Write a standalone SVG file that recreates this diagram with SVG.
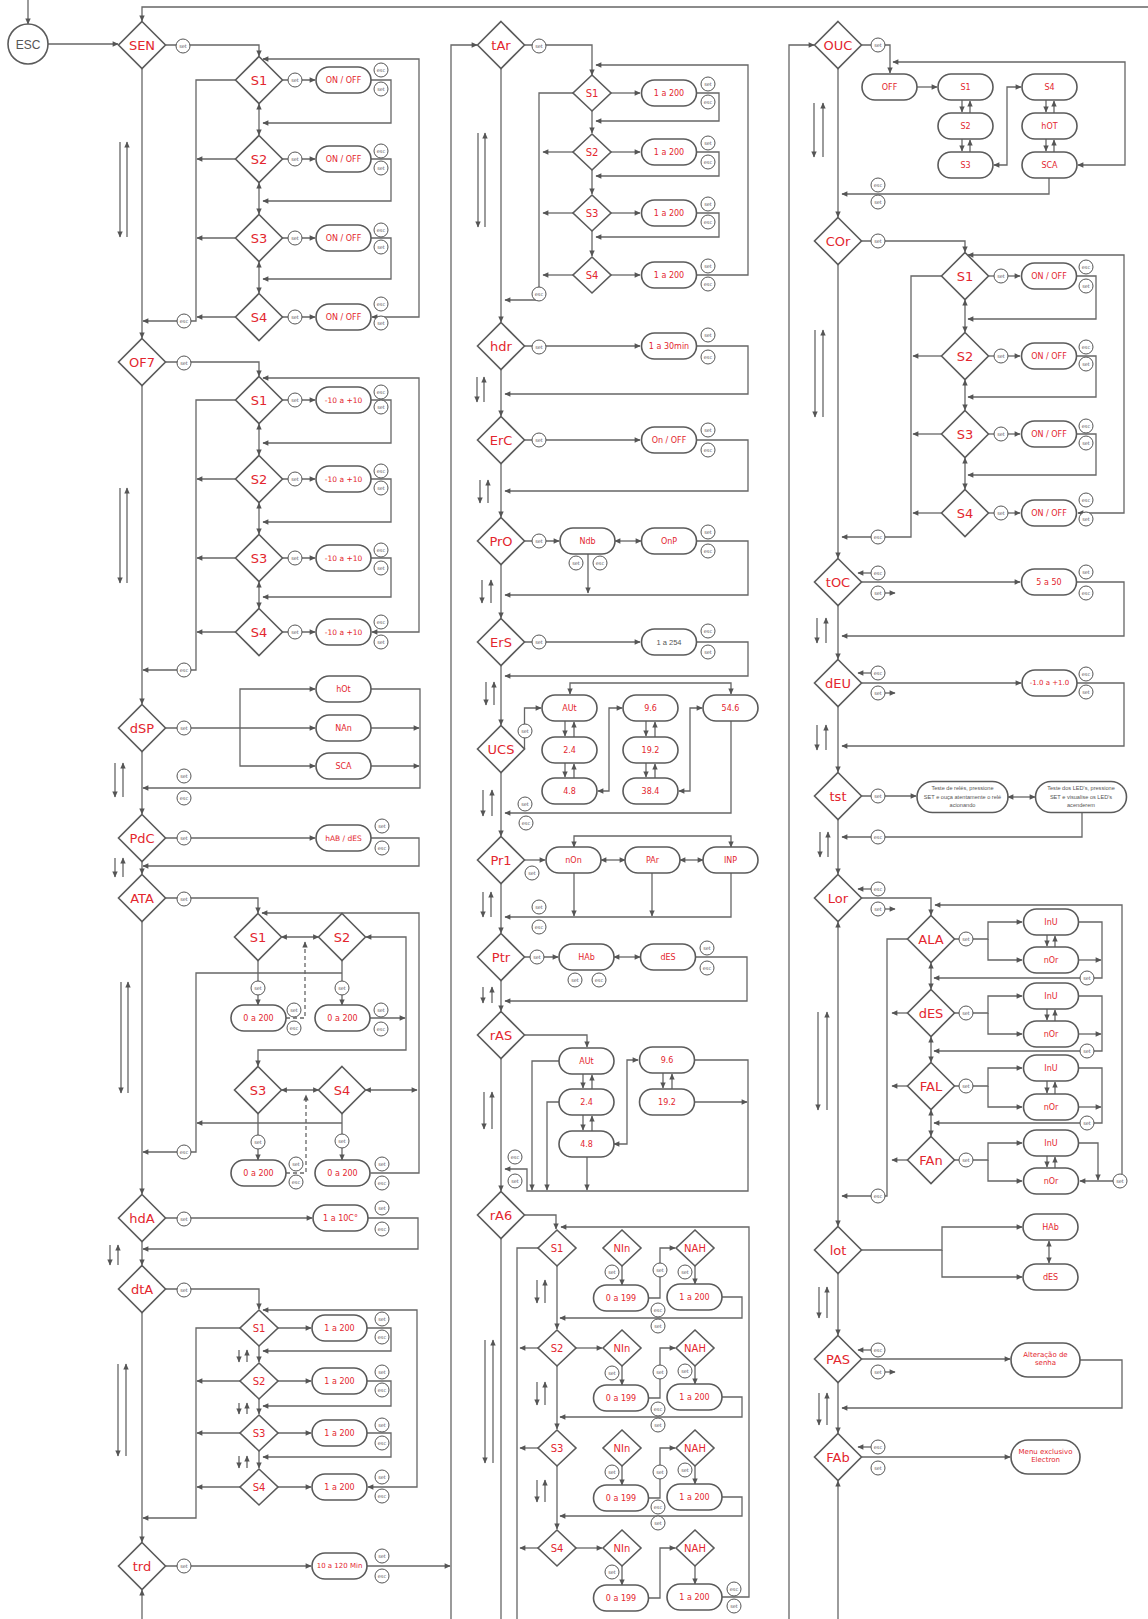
<svg xmlns="http://www.w3.org/2000/svg" width="1148" height="1619" viewBox="0 0 1148 1619">
<style>
.n use,.n circle{fill:#fff;stroke:#5b5b5b;stroke-width:1.6}
.L{font-family:"DejaVu Sans",sans-serif;fill:#e3262e;text-anchor:middle;dominant-baseline:central}
.f13{font-size:13px}.f10{font-size:10px}.f8{font-size:8px}.f7{font-size:7px}.f75{font-size:7.5px}
.gr{fill:#555}
.tw{font-family:"Liberation Sans",Arial,sans-serif;font-size:5.6px;fill:#555;text-anchor:middle}
.c path{fill:none;stroke:#666;stroke-width:1.3}
.c .e{marker-end:url(#a)}
.c .s{marker-start:url(#a)}
.c .dash{stroke-dasharray:4 3}
.b use{fill:#fff;stroke:#555;stroke-width:1}
.b text{font-family:"DejaVu Sans",sans-serif;font-size:5px;fill:#555;text-anchor:middle;dominant-baseline:central}
</style>
<defs>
<marker id="a" viewBox="0 0 10 10" refX="9" refY="5" markerWidth="7" markerHeight="6" markerUnits="userSpaceOnUse" orient="auto-start-reverse"><path d="M0,0.5 L10,5 L0,9.5z" fill="#555"/></marker>
<polygon id="D" points="0,-23.5 23.5,0 0,23.5 -23.5,0"/>
<polygon id="d" points="0,-18 19,0 0,18 -19,0"/>
<rect id="P" x="-27.5" y="-13" width="55" height="26" rx="13"/>
<rect id="PW" x="-45.5" y="-15.5" width="91" height="31" rx="15.5"/>
<rect id="PA" x="-34.5" y="-17" width="69" height="34" rx="17"/>
<circle id="B" r="7"/>
</defs>
<rect width="1148" height="1619" fill="#fff"/>

<g id="connectors" class="c">
<!-- column 1 -->
<path class="e" d="M28,0 V24"/>
<path class="e" d="M48,44 H118"/>
<path class="e" d="M1148,7 H142 V21"/>
<path class="e" d="M165.5,45 H259 V56"/>
<path class="e" d="M282.5,80 H315"/><path class="e" d="M371,80 H391 V123 H263"/>
<path class="s e" d="M259,104 V135"/>
<path class="e" d="M282.5,159 H315"/><path class="e" d="M371,159 H391 V201 H263"/>
<path class="s e" d="M259,183 V214"/>
<path class="e" d="M282.5,238 H315"/><path class="e" d="M371,238 H391 V279 H263"/>
<path class="s e" d="M259,262 V293"/>
<path class="e" d="M282.5,317 H315"/>
<path class="s e" d="M263,59 H419 V317 H372"/>
<path class="e" d="M235.5,80 H196 V321 H143"/>
<path class="e" d="M235.5,159 H197"/><path class="e" d="M235.5,238 H197"/><path class="e" d="M235.5,317 H197"/>
<path class="e" d="M120,142 V237"/><path class="e" d="M127,237 V142"/>
<path class="e" d="M142,68.5 V338"/>

<path class="e" d="M165.5,362 H259 V376"/>
<path class="e" d="M282.5,400 H315"/><path class="e" d="M371,400 H391 V443 H263"/>
<path class="s e" d="M259,424 V455"/>
<path class="e" d="M282.5,479 H315"/><path class="e" d="M371,479 H391 V522 H263"/>
<path class="s e" d="M259,503 V534"/>
<path class="e" d="M282.5,558 H315"/><path class="e" d="M371,558 H391 V597 H263"/>
<path class="s e" d="M259,582 V608"/>
<path class="e" d="M282.5,632 H315"/>
<path class="s e" d="M263,378 H419 V632 H372"/>
<path class="e" d="M235.5,400 H196 V670 H143"/>
<path class="e" d="M235.5,479 H197"/><path class="e" d="M235.5,558 H197"/><path class="e" d="M235.5,632 H197"/>
<path class="e" d="M120,488 V583"/><path class="e" d="M127,583 V488"/>
<path class="e" d="M142,385.5 V704"/>

<path class="e" d="M165.5,728 H315"/>
<path class="e" d="M240,728 V689 H315"/><path class="e" d="M240,728 V766 H315"/>
<path class="e" d="M371,689 H420 V788 H143"/>
<path class="e" d="M371,728 H419"/><path class="e" d="M371,766 H419"/>
<path class="e" d="M115,763 V797"/><path class="e" d="M123,797 V763"/>
<path class="e" d="M142,751.5 V814"/>

<path class="e" d="M165.5,838 H315"/>
<path class="e" d="M371,838 H419 V866 H143"/>
<path class="e" d="M115,858 V877"/><path class="e" d="M123,877 V858"/>
<path class="e" d="M142,861.5 V874"/>

<path class="e" d="M165.5,898 H258 V913"/>
<path class="s e" d="M281.5,937 H318.5"/>
<path class="e dash" d="M286,1018 H305 V942"/>
<path class="s" d="M262,913 H419 V1173 H370.5"/>
<path class="s e" d="M366,937 H406 V1050 H258 V1066"/>
<path class="e" d="M370,1018 H405"/>
<path class="e" d="M258,960.5 V1005"/>
<path class="e" d="M342,960.5 V1005"/>
<path class="e" d="M342,973 H196 V1152 H143"/>
<path class="s e" d="M281.5,1090 H318.5"/>
<path class="e dash" d="M286,1173 H306 V1095"/>
<path class="s e" d="M365.5,1090 H417"/>
<path class="e" d="M342,1123 H197"/>
<path class="e" d="M342,1113.5 V1160"/>
<path class="e" d="M258,1113.5 V1160"/>
<path class="e" d="M121,982 V1093"/><path class="e" d="M128,1093 V982"/>
<path class="e" d="M142,921.5 V1194"/>

<path class="e" d="M165.5,1218 H312"/>
<path class="e" d="M368,1218 H418 V1249 H143"/>
<path class="e" d="M110,1245 V1265"/><path class="e" d="M118,1265 V1245"/>
<path class="e" d="M142,1241.5 V1265"/>

<path class="e" d="M165.5,1289 H259 V1309"/>
<path class="e" d="M278,1328 H311"/><path class="e" d="M367,1328 H391 V1351 H263"/>
<path class="e" d="M259,1346 V1362"/>
<path class="e" d="M239,1350 V1362"/><path class="e" d="M247,1362 V1350"/>
<path class="e" d="M278,1381 H311"/><path class="e" d="M367,1381 H391 V1406 H263"/>
<path class="e" d="M259,1399 V1414"/>
<path class="e" d="M239,1403 V1414"/><path class="e" d="M247,1414 V1403"/>
<path class="e" d="M278,1433 H311"/><path class="e" d="M367,1433 H391 V1457 H263"/>
<path class="e" d="M259,1451 V1468"/>
<path class="e" d="M239,1456 V1468"/><path class="e" d="M247,1468 V1456"/>
<path class="e" d="M278,1487 H311"/>
<path class="s e" d="M263,1310 H417 V1487 H368"/>
<path class="e" d="M240,1328 H196 V1518 H143"/>
<path class="e" d="M240,1381 H197"/><path class="e" d="M240,1433 H197"/><path class="e" d="M240,1487 H197"/>
<path class="e" d="M118,1364 V1456"/><path class="e" d="M126,1456 V1364"/>
<path class="e" d="M142,1312.5 V1542"/>

<path class="e" d="M165.5,1566 H311"/>
<path class="e" d="M367,1566 H450"/>
<path class="e" d="M142,1619 V1590"/>

<!-- column 2 -->
<path class="e" d="M451,1619 V45 H477"/>
<path class="e" d="M524.5,45 H592 V75"/>
<path class="e" d="M611,93 H640"/><path class="e" d="M697,93 H719 V121 H596"/>
<path class="e" d="M592,111 V133"/>
<path class="e" d="M611,152 H640"/><path class="e" d="M697,152 H719 V176 H596"/>
<path class="e" d="M592,170 V194"/>
<path class="e" d="M611,213 H640"/><path class="e" d="M697,213 H719 V237 H596"/>
<path class="e" d="M592,231 V256"/>
<path class="e" d="M611,275 H640"/>
<path class="e" d="M697,275 H748 V65 H596"/>
<path class="e" d="M573,93 H539 V300 H505"/>
<path class="e" d="M573,152 H543"/><path class="e" d="M573,213 H543"/><path class="e" d="M573,275 H543"/>
<path class="e" d="M478,133 V227"/><path class="e" d="M485,227 V133"/>
<path class="e" d="M501,68.5 V322"/>

<path class="e" d="M524.5,346 H640"/>
<path class="e" d="M697,346 H748 V394 H505"/>
<path class="e" d="M477,377 V402"/><path class="e" d="M484,402 V377"/>
<path class="e" d="M501,369.5 V416"/>

<path class="e" d="M524.5,440 H640"/>
<path class="e" d="M697,440 H748 V491 H505"/>
<path class="e" d="M480,480 V503"/><path class="e" d="M488,503 V480"/>
<path class="e" d="M501,463.5 V517"/>

<path class="e" d="M524.5,541 H559"/>
<path class="s e" d="M615,541 H641"/>
<path class="e" d="M697,541 H748 V595 H505"/>
<path class="e" d="M588,554 V593"/>
<path class="e" d="M482,580 V603"/><path class="e" d="M491,603 V580"/>
<path class="e" d="M501,564.5 V618"/>

<path class="e" d="M524.5,642 H640"/>
<path class="e" d="M697,642 H748 V676 H505"/>
<path class="e" d="M486,682 V705"/><path class="e" d="M494,705 V682"/>
<path class="e" d="M501,665.5 V725"/>

<path class="e" d="M524.5,749 V708 H541"/>
<path class="e" d="M565,721 V736"/><path class="e" d="M574,737 V722"/>
<path class="e" d="M565,763 V777"/><path class="e" d="M574,778 V764"/>
<path class="e" d="M646,721 V736"/><path class="e" d="M655,737 V722"/>
<path class="e" d="M646,763 V777"/><path class="e" d="M655,778 V764"/>
<path class="s e" d="M598,791 H609 V708 H622"/>
<path class="s e" d="M679,791 H690 V708 H702"/>
<path class="s e" d="M570,694 V683 H731 V694"/>
<path class="e" d="M731,721 V813 H505"/>
<path class="e" d="M483,790 V816"/><path class="e" d="M492,816 V790"/>
<path class="e" d="M501,772.5 V836"/>

<path class="e" d="M524.5,860 H545"/>
<path class="s e" d="M601,860 H625"/><path class="s e" d="M680,860 H703"/>
<path class="s e" d="M574,847 V836 H731 V847"/>
<path class="e" d="M574,873 V916"/><path class="e" d="M652,873 V916"/>
<path class="e" d="M731,873 V917 H505"/>
<path class="e" d="M483,892 V917"/><path class="e" d="M491,917 V892"/>
<path class="e" d="M501,883.5 V933"/>

<path class="e" d="M524.5,957 H558"/>
<path class="s e" d="M614,957 H640"/>
<path class="e" d="M696,957 H747 V1001 H505"/>
<path class="e" d="M483,987 V1003"/><path class="e" d="M492,1003 V987"/>
<path class="e" d="M501,980.5 V1011"/>

<path class="e" d="M524.5,1035 H587 V1047"/>
<path class="e" d="M583,1074 V1088"/><path class="e" d="M592,1089 V1075"/>
<path class="e" d="M583,1115 V1130"/><path class="e" d="M592,1131 V1116"/>
<path class="e" d="M663,1073 V1088"/><path class="e" d="M672,1089 V1074"/>
<path class="s e" d="M614,1144 H627 V1060 H638"/>
<path class="e" d="M695,1060 H748 V1191 H527 V1169 H505"/>
<path class="e" d="M695,1102 H747"/>
<path class="e" d="M559,1061 H532 V1190"/>
<path class="e" d="M559,1102 H547 V1190"/>
<path class="e" d="M587,1157 V1190"/>
<path class="e" d="M484,1092 V1129"/><path class="e" d="M492,1129 V1092"/>
<path class="e" d="M501,1058.5 V1191"/>

<path class="e" d="M524.5,1215 H556 V1229"/>
<path class="e" d="M722,1597 H749 V1227 H561"/>
<path d="M538,1248 H517 V1619"/>
<path class="e" d="M538,1348 H520"/><path class="e" d="M538,1448 H520"/><path class="e" d="M538,1548 H520"/>
<path class="e" d="M557,1266 V1329"/><path class="e" d="M557,1366 V1429"/><path class="e" d="M557,1466 V1529"/>
<path class="e" d="M576,1348 H602"/><path class="e" d="M576,1548 H602"/>
<path class="e" d="M622,1266 V1285"/><path class="e" d="M649,1298 H660 V1248 H675"/><path class="e" d="M695,1266 V1284"/>
<path class="e" d="M722,1297 H742 V1318 H560"/>
<path class="e" d="M622,1366 V1385"/><path class="e" d="M649,1398 H660 V1348 H675"/><path class="e" d="M695,1366 V1384"/>
<path class="e" d="M722,1397 H742 V1417 H560"/>
<path class="e" d="M622,1466 V1485"/><path class="e" d="M649,1498 H660 V1448 H675"/><path class="e" d="M695,1466 V1484"/>
<path class="e" d="M722,1497 H742 V1516 H560"/>
<path class="e" d="M622,1566 V1585"/><path class="e" d="M649,1598 H660 V1548 H675"/><path class="e" d="M695,1566 V1584"/>
<path class="e" d="M537,1280 V1303"/><path class="e" d="M545,1303 V1280"/>
<path class="e" d="M537,1382 V1405"/><path class="e" d="M545,1405 V1382"/>
<path class="e" d="M537,1480 V1502"/><path class="e" d="M545,1502 V1480"/>
<path class="e" d="M485,1340 V1463"/><path class="e" d="M493,1463 V1340"/>
<path d="M501,1238.5 V1619"/>

<!-- column 3 -->
<path class="e" d="M789,1619 V45 H814"/>
<path class="e" d="M861.5,45 H890 V73"/>
<path class="e" d="M917,87 H937"/>
<path class="e" d="M962,100 V112"/><path class="e" d="M970,113 V101"/>
<path class="e" d="M962,139 V151"/><path class="e" d="M970,152 V140"/>
<path class="e" d="M1046,100 V112"/><path class="e" d="M1054,113 V101"/>
<path class="e" d="M1046,139 V151"/><path class="e" d="M1054,152 V140"/>
<path class="s e" d="M994,165 H1007 V87 H1021"/>
<path class="s e" d="M893,62 H1125 V165 H1078"/>
<path class="e" d="M1049,178 V194 H842"/>
<path class="e" d="M814,103 V157"/><path class="e" d="M823,157 V103"/>
<path class="e" d="M838,68.5 V217"/>

<path class="e" d="M861.5,241 H965 V252"/>
<path class="e" d="M988.5,276 H1020"/><path class="e" d="M1077,276 H1096 V319 H968"/>
<path class="s e" d="M965,300 V332"/>
<path class="e" d="M988.5,356 H1020"/><path class="e" d="M1077,356 H1096 V397 H968"/>
<path class="s e" d="M965,380 V410"/>
<path class="e" d="M988.5,434 H1020"/><path class="e" d="M1077,434 H1096 V475 H968"/>
<path class="s e" d="M965,458 V489"/>
<path class="e" d="M988.5,513 H1020"/>
<path class="s e" d="M968,255 H1124 V513 H1078"/>
<path class="e" d="M941.5,276 H911 V537 H842"/>
<path class="e" d="M941.5,356 H913"/><path class="e" d="M941.5,434 H913"/><path class="e" d="M941.5,513 H913"/>
<path class="e" d="M815,330 V417"/><path class="e" d="M823,417 V330"/>
<path class="e" d="M838,264.5 V558"/>

<path class="e" d="M861.5,582 H1020"/>
<path class="e" d="M871,573 H858"/><path class="e" d="M885,593 H895"/>
<path class="e" d="M1077,582 H1124 V636 H842"/>
<path class="e" d="M817,618 V643"/><path class="e" d="M826,643 V618"/>
<path class="e" d="M838,605.5 V659"/>

<path class="e" d="M861.5,683 H1021"/>
<path class="e" d="M871,673 H858"/><path class="e" d="M885,693 H895"/>
<path class="e" d="M1077,683 H1124 V746 H842"/>
<path class="e" d="M817,725 V750"/><path class="e" d="M826,750 V725"/>
<path class="e" d="M838,706.5 V772"/>

<path class="e" d="M861.5,796 H916"/>
<path class="s e" d="M1008,797 H1035"/>
<path class="e" d="M1082,812.5 V837 H842"/>
<path class="e" d="M820,832 V857"/><path class="e" d="M828,857 V832"/>
<path class="e" d="M838,819.5 V874"/>

<path class="e" d="M861.5,898 H931 V915"/>
<path class="e" d="M871,889 H858"/><path class="e" d="M885,909 H895"/>
<path class="e" d="M954.5,939 H988 V922 H1022"/><path class="e" d="M988,939 V960 H1022"/>
<path class="e" d="M1047,935 V946"/><path class="e" d="M1055,947 V936"/>
<path class="e" d="M1078.5,922 H1102 V978 H934"/><path class="e" d="M1078.5,960 H1101"/>
<path class="s e" d="M931,963 V989"/>
<path class="e" d="M954.5,1013 H988 V996 H1022"/><path class="e" d="M988,1013 V1034 H1022"/>
<path class="e" d="M1047,1009 V1020"/><path class="e" d="M1055,1021 V1010"/>
<path class="e" d="M1078.5,996 H1102 V1051 H934"/><path class="e" d="M1078.5,1034 H1101"/>
<path class="s e" d="M931,1037 V1062"/>
<path class="e" d="M954.5,1086 H988 V1068 H1022"/><path class="e" d="M988,1086 V1107 H1022"/>
<path class="e" d="M1047,1081 V1093"/><path class="e" d="M1055,1094 V1082"/>
<path class="e" d="M1078.5,1068 H1102 V1123 H934"/><path class="e" d="M1078.5,1107 H1101"/>
<path class="s e" d="M931,1110 V1136"/>
<path class="e" d="M954.5,1160 H988 V1143 H1022"/><path class="e" d="M988,1160 V1181 H1022"/>
<path class="e" d="M1047,1156 V1167"/><path class="e" d="M1055,1168 V1157"/>
<path class="e" d="M1078.5,1143 H1098 V1180"/>
<path class="e" d="M1113,1181 H1080"/>
<path class="e" d="M1122,1174 V905 H935"/>
<path class="e" d="M907.5,939 H887 V1196 H842"/>
<path class="e" d="M907.5,1013 H892"/><path class="e" d="M907.5,1086 H892"/><path class="e" d="M907.5,1160 H892"/>
<path class="e" d="M818,1012 V1110"/><path class="e" d="M827,1110 V1012"/>
<path class="s e" d="M838,922 V1226"/>

<path class="e" d="M861.5,1250 H942 V1227 H1022"/><path class="e" d="M942,1250 V1277 H1022"/>
<path class="s e" d="M1049,1241 V1263"/>
<path class="e" d="M819,1287 V1318"/><path class="e" d="M827,1318 V1287"/>
<path class="e" d="M838,1273.5 V1335"/>

<path class="e" d="M861.5,1359 H1010"/>
<path class="e" d="M871,1350 H858"/><path class="e" d="M885,1372 H895"/>
<path class="e" d="M1080,1360 H1122 V1408 H842"/>
<path class="e" d="M819,1393 V1425"/><path class="e" d="M827,1425 V1393"/>
<path class="e" d="M838,1382.5 V1433"/>

<path class="e" d="M861.5,1457 H1010"/>
<path class="e" d="M871,1447 H858"/>
<path class="e" d="M838,1619 V1481"/>
</g>

<g id="nodes">
<g id="n-ESC" class="n"><circle cx="28" cy="44" r="20"/><text x="28" y="45" class="gr" style="font-family:'Liberation Sans',Arial,sans-serif;font-size:12px;text-anchor:middle;dominant-baseline:central">ESC</text></g>
<g id="n-SEN" class="n"><use href="#D" x="142" y="45"/><text class="L f13" x="142" y="45">SEN</text></g>
<g id="n-SEN-S1" class="n"><use href="#D" x="259" y="80"/><text class="L f13" x="259" y="80">S1</text></g>
<g id="n-SEN-S1v" class="n"><use href="#P" x="343.5" y="80"/><text class="L f8" x="343.5" y="80">ON / OFF</text></g>
<g id="n-SEN-S2" class="n"><use href="#D" x="259" y="159"/><text class="L f13" x="259" y="159">S2</text></g>
<g id="n-SEN-S2v" class="n"><use href="#P" x="343.5" y="159"/><text class="L f8" x="343.5" y="159">ON / OFF</text></g>
<g id="n-SEN-S3" class="n"><use href="#D" x="259" y="238"/><text class="L f13" x="259" y="238">S3</text></g>
<g id="n-SEN-S3v" class="n"><use href="#P" x="343.5" y="238"/><text class="L f8" x="343.5" y="238">ON / OFF</text></g>
<g id="n-SEN-S4" class="n"><use href="#D" x="259" y="317"/><text class="L f13" x="259" y="317">S4</text></g>
<g id="n-SEN-S4v" class="n"><use href="#P" x="343.5" y="317"/><text class="L f8" x="343.5" y="317">ON / OFF</text></g>

<g id="n-OF7" class="n"><use href="#D" x="142" y="362"/><text class="L f13" x="142" y="362">OF7</text></g>
<g id="n-OF7-S1" class="n"><use href="#D" x="259" y="400"/><text class="L f13" x="259" y="400">S1</text></g>
<g id="n-OF7-S1v" class="n"><use href="#P" x="343.5" y="400"/><text class="L f75" x="343.5" y="400">-10 a +10</text></g>
<g id="n-OF7-S2" class="n"><use href="#D" x="259" y="479"/><text class="L f13" x="259" y="479">S2</text></g>
<g id="n-OF7-S2v" class="n"><use href="#P" x="343.5" y="479"/><text class="L f75" x="343.5" y="479">-10 a +10</text></g>
<g id="n-OF7-S3" class="n"><use href="#D" x="259" y="558"/><text class="L f13" x="259" y="558">S3</text></g>
<g id="n-OF7-S3v" class="n"><use href="#P" x="343.5" y="558"/><text class="L f75" x="343.5" y="558">-10 a +10</text></g>
<g id="n-OF7-S4" class="n"><use href="#D" x="259" y="632"/><text class="L f13" x="259" y="632">S4</text></g>
<g id="n-OF7-S4v" class="n"><use href="#P" x="343.5" y="632"/><text class="L f75" x="343.5" y="632">-10 a +10</text></g>

<g id="n-dSP" class="n"><use href="#D" x="142" y="728"/><text class="L f13" x="142" y="728">dSP</text></g>
<g id="n-dSP-hOt" class="n"><use href="#P" x="343.5" y="689"/><text class="L f8" x="343.5" y="689">hOt</text></g>
<g id="n-dSP-NAn" class="n"><use href="#P" x="343.5" y="728"/><text class="L f8" x="343.5" y="728">NAn</text></g>
<g id="n-dSP-SCA" class="n"><use href="#P" x="343.5" y="766"/><text class="L f8" x="343.5" y="766">SCA</text></g>

<g id="n-PdC" class="n"><use href="#D" x="142" y="838"/><text class="L f13" x="142" y="838">PdC</text></g>
<g id="n-PdC-v" class="n"><use href="#P" x="343.5" y="838"/><text class="L f75" x="343.5" y="838">hAB / dES</text></g>

<g id="n-ATA" class="n"><use href="#D" x="142" y="898"/><text class="L f13" x="142" y="898">ATA</text></g>
<g id="n-ATA-S1" class="n"><use href="#D" x="258" y="937"/><text class="L f13" x="258" y="937">S1</text></g>
<g id="n-ATA-S2" class="n"><use href="#D" x="342" y="937"/><text class="L f13" x="342" y="937">S2</text></g>
<g id="n-ATA-S3" class="n"><use href="#D" x="258" y="1090"/><text class="L f13" x="258" y="1090">S3</text></g>
<g id="n-ATA-S4" class="n"><use href="#D" x="342" y="1090"/><text class="L f13" x="342" y="1090">S4</text></g>
<g id="n-ATA-S1v" class="n"><use href="#P" x="258.5" y="1018"/><text class="L f8" x="258.5" y="1018">0 a 200</text></g>
<g id="n-ATA-S2v" class="n"><use href="#P" x="342.5" y="1018"/><text class="L f8" x="342.5" y="1018">0 a 200</text></g>
<g id="n-ATA-S3v" class="n"><use href="#P" x="258.5" y="1173"/><text class="L f8" x="258.5" y="1173">0 a 200</text></g>
<g id="n-ATA-S4v" class="n"><use href="#P" x="342.5" y="1173"/><text class="L f8" x="342.5" y="1173">0 a 200</text></g>

<g id="n-hdA" class="n"><use href="#D" x="142" y="1218"/><text class="L f13" x="142" y="1218">hdA</text></g>
<g id="n-hdA-v" class="n"><use href="#P" x="340.5" y="1218"/><text class="L f8" x="340.5" y="1218">1 a 10C°</text></g>

<g id="n-dtA" class="n"><use href="#D" x="142" y="1289"/><text class="L f13" x="142" y="1289">dtA</text></g>
<g id="n-dtA-S1" class="n"><use href="#d" x="259" y="1328"/><text class="L f10" x="259" y="1328">S1</text></g>
<g id="n-dtA-S1v" class="n"><use href="#P" x="339.5" y="1328"/><text class="L f8" x="339.5" y="1328">1 a 200</text></g>
<g id="n-dtA-S2" class="n"><use href="#d" x="259" y="1381"/><text class="L f10" x="259" y="1381">S2</text></g>
<g id="n-dtA-S2v" class="n"><use href="#P" x="339.5" y="1381"/><text class="L f8" x="339.5" y="1381">1 a 200</text></g>
<g id="n-dtA-S3" class="n"><use href="#d" x="259" y="1433"/><text class="L f10" x="259" y="1433">S3</text></g>
<g id="n-dtA-S3v" class="n"><use href="#P" x="339.5" y="1433"/><text class="L f8" x="339.5" y="1433">1 a 200</text></g>
<g id="n-dtA-S4" class="n"><use href="#d" x="259" y="1487"/><text class="L f10" x="259" y="1487">S4</text></g>
<g id="n-dtA-S4v" class="n"><use href="#P" x="339.5" y="1487"/><text class="L f8" x="339.5" y="1487">1 a 200</text></g>

<g id="n-trd" class="n"><use href="#D" x="142" y="1566"/><text class="L f13" x="142" y="1566">trd</text></g>
<g id="n-trd-v" class="n"><use href="#P" x="339.5" y="1566"/><text class="L f7" x="339.5" y="1566">10 a 120 Min</text></g>

<!-- column 2 -->
<g id="n-tAr" class="n"><use href="#D" x="501" y="45"/><text class="L f13" x="501" y="45">tAr</text></g>
<g id="n-tAr-S1" class="n"><use href="#d" x="592" y="93"/><text class="L f10" x="592" y="93">S1</text></g>
<g id="n-tAr-S1v" class="n"><use href="#P" x="669" y="93"/><text class="L f8" x="669" y="93">1 a 200</text></g>
<g id="n-tAr-S2" class="n"><use href="#d" x="592" y="152"/><text class="L f10" x="592" y="152">S2</text></g>
<g id="n-tAr-S2v" class="n"><use href="#P" x="669" y="152"/><text class="L f8" x="669" y="152">1 a 200</text></g>
<g id="n-tAr-S3" class="n"><use href="#d" x="592" y="213"/><text class="L f10" x="592" y="213">S3</text></g>
<g id="n-tAr-S3v" class="n"><use href="#P" x="669" y="213"/><text class="L f8" x="669" y="213">1 a 200</text></g>
<g id="n-tAr-S4" class="n"><use href="#d" x="592" y="275"/><text class="L f10" x="592" y="275">S4</text></g>
<g id="n-tAr-S4v" class="n"><use href="#P" x="669" y="275"/><text class="L f8" x="669" y="275">1 a 200</text></g>

<g id="n-hdr" class="n"><use href="#D" x="501" y="346"/><text class="L f13" x="501" y="346">hdr</text></g>
<g id="n-hdr-v" class="n"><use href="#P" x="669" y="346"/><text class="L f8" x="669" y="346">1 a 30min</text></g>
<g id="n-ErC" class="n"><use href="#D" x="501" y="440"/><text class="L f13" x="501" y="440">ErC</text></g>
<g id="n-ErC-v" class="n"><use href="#P" x="669" y="440"/><text class="L f8" x="669" y="440">On / OFF</text></g>
<g id="n-PrO" class="n"><use href="#D" x="501" y="541"/><text class="L f13" x="501" y="541">PrO</text></g>
<g id="n-PrO-Ndb" class="n"><use href="#P" x="587.5" y="541"/><text class="L f8" x="587.5" y="541">Ndb</text></g>
<g id="n-PrO-OnP" class="n"><use href="#P" x="669" y="541"/><text class="L f8" x="669" y="541">OnP</text></g>
<g id="n-ErS" class="n"><use href="#D" x="501" y="642"/><text class="L f13" x="501" y="642">ErS</text></g>
<g id="n-ErS-v" class="n"><use href="#P" x="669" y="642"/><text class="gr" x="669" y="642" style="font-family:'Liberation Sans',Arial,sans-serif;font-size:7.5px;text-anchor:middle;dominant-baseline:central">1 a 254</text></g>

<g id="n-UCS" class="n"><use href="#D" x="501" y="749"/><text class="L f13" x="501" y="749">UCS</text></g>
<g id="n-UCS-AUt" class="n"><use href="#P" x="569.5" y="708"/><text class="L f8" x="569.5" y="708">AUt</text></g>
<g id="n-UCS-24" class="n"><use href="#P" x="569.5" y="750"/><text class="L f8" x="569.5" y="750">2.4</text></g>
<g id="n-UCS-48" class="n"><use href="#P" x="569.5" y="791"/><text class="L f8" x="569.5" y="791">4.8</text></g>
<g id="n-UCS-96" class="n"><use href="#P" x="650.5" y="708"/><text class="L f8" x="650.5" y="708">9.6</text></g>
<g id="n-UCS-192" class="n"><use href="#P" x="650.5" y="750"/><text class="L f8" x="650.5" y="750">19.2</text></g>
<g id="n-UCS-384" class="n"><use href="#P" x="650.5" y="791"/><text class="L f8" x="650.5" y="791">38.4</text></g>
<g id="n-UCS-546" class="n"><use href="#P" x="730.5" y="708"/><text class="L f8" x="730.5" y="708">54.6</text></g>

<g id="n-Pr1" class="n"><use href="#D" x="501" y="860"/><text class="L f13" x="501" y="860">Pr1</text></g>
<g id="n-Pr1-nOn" class="n"><use href="#P" x="573.5" y="860"/><text class="L f8" x="573.5" y="860">nOn</text></g>
<g id="n-Pr1-PAr" class="n"><use href="#P" x="652.5" y="860"/><text class="L f8" x="652.5" y="860">PAr</text></g>
<g id="n-Pr1-INP" class="n"><use href="#P" x="730.5" y="860"/><text class="L f8" x="730.5" y="860">INP</text></g>

<g id="n-Ptr" class="n"><use href="#D" x="501" y="957"/><text class="L f13" x="501" y="957">Ptr</text></g>
<g id="n-Ptr-HAb" class="n"><use href="#P" x="586.5" y="957"/><text class="L f8" x="586.5" y="957">HAb</text></g>
<g id="n-Ptr-dES" class="n"><use href="#P" x="668" y="957"/><text class="L f8" x="668" y="957">dES</text></g>

<g id="n-rAS" class="n"><use href="#D" x="501" y="1035"/><text class="L f13" x="501" y="1035">rAS</text></g>
<g id="n-rAS-AUt" class="n"><use href="#P" x="586.5" y="1061"/><text class="L f8" x="586.5" y="1061">AUt</text></g>
<g id="n-rAS-24" class="n"><use href="#P" x="586.5" y="1102"/><text class="L f8" x="586.5" y="1102">2.4</text></g>
<g id="n-rAS-48" class="n"><use href="#P" x="586.5" y="1144"/><text class="L f8" x="586.5" y="1144">4.8</text></g>
<g id="n-rAS-96" class="n"><use href="#P" x="667" y="1060"/><text class="L f8" x="667" y="1060">9.6</text></g>
<g id="n-rAS-192" class="n"><use href="#P" x="667" y="1102"/><text class="L f8" x="667" y="1102">19.2</text></g>

<g id="n-rA6" class="n"><use href="#D" x="501" y="1215"/><text class="L f13" x="501" y="1215">rA6</text></g>
<g id="n-rA6-S1" class="n"><use href="#d" x="557" y="1248"/><text class="L f10" x="557" y="1248">S1</text></g>
<g id="n-rA6-S1-NIn" class="n"><use href="#d" x="622" y="1248"/><text class="L f10" x="622" y="1248">NIn</text></g>
<g id="n-rA6-S1-NAH" class="n"><use href="#d" x="695" y="1248"/><text class="L f10" x="695" y="1248">NAH</text></g>
<g id="n-rA6-S1-a" class="n"><use href="#P" x="621" y="1298"/><text class="L f8" x="621" y="1298">0 a 199</text></g>
<g id="n-rA6-S1-b" class="n"><use href="#P" x="694.5" y="1297"/><text class="L f8" x="694.5" y="1297">1 a 200</text></g>
<g id="n-rA6-S2" class="n"><use href="#d" x="557" y="1348"/><text class="L f10" x="557" y="1348">S2</text></g>
<g id="n-rA6-S2-NIn" class="n"><use href="#d" x="622" y="1348"/><text class="L f10" x="622" y="1348">NIn</text></g>
<g id="n-rA6-S2-NAH" class="n"><use href="#d" x="695" y="1348"/><text class="L f10" x="695" y="1348">NAH</text></g>
<g id="n-rA6-S2-a" class="n"><use href="#P" x="621" y="1398"/><text class="L f8" x="621" y="1398">0 a 199</text></g>
<g id="n-rA6-S2-b" class="n"><use href="#P" x="694.5" y="1397"/><text class="L f8" x="694.5" y="1397">1 a 200</text></g>
<g id="n-rA6-S3" class="n"><use href="#d" x="557" y="1448"/><text class="L f10" x="557" y="1448">S3</text></g>
<g id="n-rA6-S3-NIn" class="n"><use href="#d" x="622" y="1448"/><text class="L f10" x="622" y="1448">NIn</text></g>
<g id="n-rA6-S3-NAH" class="n"><use href="#d" x="695" y="1448"/><text class="L f10" x="695" y="1448">NAH</text></g>
<g id="n-rA6-S3-a" class="n"><use href="#P" x="621" y="1498"/><text class="L f8" x="621" y="1498">0 a 199</text></g>
<g id="n-rA6-S3-b" class="n"><use href="#P" x="694.5" y="1497"/><text class="L f8" x="694.5" y="1497">1 a 200</text></g>
<g id="n-rA6-S4" class="n"><use href="#d" x="557" y="1548"/><text class="L f10" x="557" y="1548">S4</text></g>
<g id="n-rA6-S4-NIn" class="n"><use href="#d" x="622" y="1548"/><text class="L f10" x="622" y="1548">NIn</text></g>
<g id="n-rA6-S4-NAH" class="n"><use href="#d" x="695" y="1548"/><text class="L f10" x="695" y="1548">NAH</text></g>
<g id="n-rA6-S4-a" class="n"><use href="#P" x="621" y="1598"/><text class="L f8" x="621" y="1598">0 a 199</text></g>
<g id="n-rA6-S4-b" class="n"><use href="#P" x="694.5" y="1597"/><text class="L f8" x="694.5" y="1597">1 a 200</text></g>

<!-- column 3 -->
<g id="n-OUC" class="n"><use href="#D" x="838" y="45"/><text class="L f13" x="838" y="45">OUC</text></g>
<g id="n-OUC-OFF" class="n"><use href="#P" x="889.5" y="87"/><text class="L f8" x="889.5" y="87">OFF</text></g>
<g id="n-OUC-S1" class="n"><use href="#P" x="965.5" y="87"/><text class="L f8" x="965.5" y="87">S1</text></g>
<g id="n-OUC-S2" class="n"><use href="#P" x="965.5" y="126"/><text class="L f8" x="965.5" y="126">S2</text></g>
<g id="n-OUC-S3" class="n"><use href="#P" x="965.5" y="165"/><text class="L f8" x="965.5" y="165">S3</text></g>
<g id="n-OUC-S4" class="n"><use href="#P" x="1049.5" y="87"/><text class="L f8" x="1049.5" y="87">S4</text></g>
<g id="n-OUC-hOT" class="n"><use href="#P" x="1049.5" y="126"/><text class="L f8" x="1049.5" y="126">hOT</text></g>
<g id="n-OUC-SCA" class="n"><use href="#P" x="1049.5" y="165"/><text class="L f8" x="1049.5" y="165">SCA</text></g>

<g id="n-COr" class="n"><use href="#D" x="838" y="241"/><text class="L f13" x="838" y="241">COr</text></g>
<g id="n-COr-S1" class="n"><use href="#D" x="965" y="276"/><text class="L f13" x="965" y="276">S1</text></g>
<g id="n-COr-S1v" class="n"><use href="#P" x="1049" y="276"/><text class="L f8" x="1049" y="276">ON / OFF</text></g>
<g id="n-COr-S2" class="n"><use href="#D" x="965" y="356"/><text class="L f13" x="965" y="356">S2</text></g>
<g id="n-COr-S2v" class="n"><use href="#P" x="1049" y="356"/><text class="L f8" x="1049" y="356">ON / OFF</text></g>
<g id="n-COr-S3" class="n"><use href="#D" x="965" y="434"/><text class="L f13" x="965" y="434">S3</text></g>
<g id="n-COr-S3v" class="n"><use href="#P" x="1049" y="434"/><text class="L f8" x="1049" y="434">ON / OFF</text></g>
<g id="n-COr-S4" class="n"><use href="#D" x="965" y="513"/><text class="L f13" x="965" y="513">S4</text></g>
<g id="n-COr-S4v" class="n"><use href="#P" x="1049" y="513"/><text class="L f8" x="1049" y="513">ON / OFF</text></g>

<g id="n-tOC" class="n"><use href="#D" x="838" y="582"/><text class="L f13" x="838" y="582">tOC</text></g>
<g id="n-tOC-v" class="n"><use href="#P" x="1049" y="582"/><text class="L f8" x="1049" y="582">5 a 50</text></g>
<g id="n-dEU" class="n"><use href="#D" x="838" y="683"/><text class="L f13" x="838" y="683">dEU</text></g>
<g id="n-dEU-v" class="n"><use href="#P" x="1049.5" y="683"/><text class="L f7" x="1049.5" y="683">-1.0 a +1.0</text></g>

<g id="n-tst" class="n"><use href="#D" x="838" y="796"/><text class="L f13" x="838" y="796">tst</text></g>
<g id="n-tst-rel" class="n"><use href="#PW" x="962.5" y="797"/><text class="tw" x="962.5" y="790">Teste de relés, pressione</text><text class="tw" x="962.5" y="798.5">SET e ouça atentamente o relé</text><text class="tw" x="962.5" y="807">acionando</text></g>
<g id="n-tst-led" class="n"><use href="#PW" x="1081" y="797"/><text class="tw" x="1081" y="790">Teste dos LED's, pressione</text><text class="tw" x="1081" y="798.5">SET e visualise os LED's</text><text class="tw" x="1081" y="807">acenderem</text></g>

<g id="n-Lor" class="n"><use href="#D" x="838" y="898"/><text class="L f13" x="838" y="898">Lor</text></g>
<g id="n-Lor-ALA" class="n"><use href="#D" x="931" y="939"/><text class="L f13" x="931" y="939">ALA</text></g>
<g id="n-Lor-ALA-InU" class="n"><use href="#P" x="1051" y="922"/><text class="L f8" x="1051" y="922">InU</text></g>
<g id="n-Lor-ALA-nOr" class="n"><use href="#P" x="1051" y="960"/><text class="L f8" x="1051" y="960">nOr</text></g>
<g id="n-Lor-dES" class="n"><use href="#D" x="931" y="1013"/><text class="L f13" x="931" y="1013">dES</text></g>
<g id="n-Lor-dES-InU" class="n"><use href="#P" x="1051" y="996"/><text class="L f8" x="1051" y="996">InU</text></g>
<g id="n-Lor-dES-nOr" class="n"><use href="#P" x="1051" y="1034"/><text class="L f8" x="1051" y="1034">nOr</text></g>
<g id="n-Lor-FAL" class="n"><use href="#D" x="931" y="1086"/><text class="L f13" x="931" y="1086">FAL</text></g>
<g id="n-Lor-FAL-InU" class="n"><use href="#P" x="1051" y="1068"/><text class="L f8" x="1051" y="1068">InU</text></g>
<g id="n-Lor-FAL-nOr" class="n"><use href="#P" x="1051" y="1107"/><text class="L f8" x="1051" y="1107">nOr</text></g>
<g id="n-Lor-FAn" class="n"><use href="#D" x="931" y="1160"/><text class="L f13" x="931" y="1160">FAn</text></g>
<g id="n-Lor-FAn-InU" class="n"><use href="#P" x="1051" y="1143"/><text class="L f8" x="1051" y="1143">InU</text></g>
<g id="n-Lor-FAn-nOr" class="n"><use href="#P" x="1051" y="1181"/><text class="L f8" x="1051" y="1181">nOr</text></g>

<g id="n-lot" class="n"><use href="#D" x="838" y="1250"/><text class="L f13" x="838" y="1250">lot</text></g>
<g id="n-lot-HAb" class="n"><use href="#P" x="1050.5" y="1227"/><text class="L f8" x="1050.5" y="1227">HAb</text></g>
<g id="n-lot-dES" class="n"><use href="#P" x="1050.5" y="1277"/><text class="L f8" x="1050.5" y="1277">dES</text></g>

<g id="n-PAS" class="n"><use href="#D" x="838" y="1359"/><text class="L f13" x="838" y="1359">PAS</text></g>
<g id="n-PAS-v" class="n"><use href="#PA" x="1045.5" y="1360"/><text class="L f7" x="1045.5" y="1355">Alteração de</text><text class="L f7" x="1045.5" y="1363">senha</text></g>
<g id="n-FAb" class="n"><use href="#D" x="838" y="1457"/><text class="L f13" x="838" y="1457">FAb</text></g>
<g id="n-FAb-v" class="n"><use href="#PA" x="1045.5" y="1457"/><text class="L f7" x="1045.5" y="1452">Menu exclusivo</text><text class="L f7" x="1045.5" y="1460">Electron</text></g>
</g>

<g id="badges" class="b">
<use href="#B" x="183" y="46"/><text x="183" y="46">set</text>
<use href="#B" x="295" y="80"/><text x="295" y="80">set</text>
<use href="#B" x="295" y="159"/><text x="295" y="159">set</text>
<use href="#B" x="295" y="238"/><text x="295" y="238">set</text>
<use href="#B" x="295" y="317"/><text x="295" y="317">set</text>
<use href="#B" x="381" y="70"/><text x="381" y="70">esc</text>
<use href="#B" x="381" y="89"/><text x="381" y="89">set</text>
<use href="#B" x="381" y="151"/><text x="381" y="151">esc</text>
<use href="#B" x="381" y="168"/><text x="381" y="168">set</text>
<use href="#B" x="381" y="230"/><text x="381" y="230">esc</text>
<use href="#B" x="381" y="247"/><text x="381" y="247">set</text>
<use href="#B" x="381" y="304"/><text x="381" y="304">esc</text>
<use href="#B" x="381" y="323"/><text x="381" y="323">set</text>
<use href="#B" x="184" y="321"/><text x="184" y="321">esc</text>

<use href="#B" x="184" y="363"/><text x="184" y="363">set</text>
<use href="#B" x="295" y="400"/><text x="295" y="400">set</text>
<use href="#B" x="295" y="479"/><text x="295" y="479">set</text>
<use href="#B" x="295" y="558"/><text x="295" y="558">set</text>
<use href="#B" x="295" y="632"/><text x="295" y="632">set</text>
<use href="#B" x="381" y="392"/><text x="381" y="392">esc</text>
<use href="#B" x="381" y="407"/><text x="381" y="407">set</text>
<use href="#B" x="381" y="471"/><text x="381" y="471">esc</text>
<use href="#B" x="381" y="488"/><text x="381" y="488">set</text>
<use href="#B" x="381" y="550"/><text x="381" y="550">esc</text>
<use href="#B" x="381" y="568"/><text x="381" y="568">set</text>
<use href="#B" x="381" y="622"/><text x="381" y="622">esc</text>
<use href="#B" x="381" y="642"/><text x="381" y="642">set</text>
<use href="#B" x="184" y="670"/><text x="184" y="670">esc</text>

<use href="#B" x="184" y="728"/><text x="184" y="728">set</text>
<use href="#B" x="184" y="776"/><text x="184" y="776">set</text>
<use href="#B" x="184" y="798"/><text x="184" y="798">esc</text>

<use href="#B" x="184" y="838"/><text x="184" y="838">set</text>
<use href="#B" x="382" y="826"/><text x="382" y="826">set</text>
<use href="#B" x="382" y="848"/><text x="382" y="848">esc</text>

<use href="#B" x="184" y="899"/><text x="184" y="899">set</text>
<use href="#B" x="258" y="988"/><text x="258" y="988">set</text>
<use href="#B" x="342" y="988"/><text x="342" y="988">set</text>
<use href="#B" x="294" y="1010"/><text x="294" y="1010">set</text>
<use href="#B" x="294" y="1028"/><text x="294" y="1028">esc</text>
<use href="#B" x="381" y="1010"/><text x="381" y="1010">set</text>
<use href="#B" x="381" y="1029"/><text x="381" y="1029">esc</text>
<use href="#B" x="258" y="1142"/><text x="258" y="1142">set</text>
<use href="#B" x="342" y="1141"/><text x="342" y="1141">set</text>
<use href="#B" x="296" y="1164"/><text x="296" y="1164">set</text>
<use href="#B" x="296" y="1182"/><text x="296" y="1182">esc</text>
<use href="#B" x="382" y="1164"/><text x="382" y="1164">set</text>
<use href="#B" x="382" y="1183"/><text x="382" y="1183">esc</text>
<use href="#B" x="184" y="1152"/><text x="184" y="1152">esc</text>

<use href="#B" x="184" y="1219"/><text x="184" y="1219">set</text>
<use href="#B" x="382" y="1208"/><text x="382" y="1208">set</text>
<use href="#B" x="382" y="1229"/><text x="382" y="1229">esc</text>

<use href="#B" x="184" y="1290"/><text x="184" y="1290">set</text>
<use href="#B" x="382" y="1319"/><text x="382" y="1319">set</text>
<use href="#B" x="382" y="1337"/><text x="382" y="1337">esc</text>
<use href="#B" x="382" y="1372"/><text x="382" y="1372">set</text>
<use href="#B" x="382" y="1390"/><text x="382" y="1390">esc</text>
<use href="#B" x="382" y="1425"/><text x="382" y="1425">set</text>
<use href="#B" x="382" y="1443"/><text x="382" y="1443">esc</text>
<use href="#B" x="382" y="1477"/><text x="382" y="1477">set</text>
<use href="#B" x="382" y="1496"/><text x="382" y="1496">esc</text>

<use href="#B" x="184" y="1566"/><text x="184" y="1566">set</text>
<use href="#B" x="382" y="1556"/><text x="382" y="1556">set</text>
<use href="#B" x="382" y="1576"/><text x="382" y="1576">esc</text>

<use href="#B" x="539" y="46"/><text x="539" y="46">set</text>
<use href="#B" x="708" y="84"/><text x="708" y="84">set</text>
<use href="#B" x="708" y="102"/><text x="708" y="102">esc</text>
<use href="#B" x="708" y="143"/><text x="708" y="143">set</text>
<use href="#B" x="708" y="162"/><text x="708" y="162">esc</text>
<use href="#B" x="708" y="204"/><text x="708" y="204">set</text>
<use href="#B" x="708" y="222"/><text x="708" y="222">esc</text>
<use href="#B" x="708" y="266"/><text x="708" y="266">set</text>
<use href="#B" x="708" y="284"/><text x="708" y="284">esc</text>
<use href="#B" x="539" y="294"/><text x="539" y="294">esc</text>

<use href="#B" x="539" y="347"/><text x="539" y="347">set</text>
<use href="#B" x="708" y="335"/><text x="708" y="335">set</text>
<use href="#B" x="708" y="357"/><text x="708" y="357">esc</text>
<use href="#B" x="539" y="440"/><text x="539" y="440">set</text>
<use href="#B" x="708" y="430"/><text x="708" y="430">set</text>
<use href="#B" x="708" y="450"/><text x="708" y="450">esc</text>
<use href="#B" x="539" y="541"/><text x="539" y="541">set</text>
<use href="#B" x="708" y="532"/><text x="708" y="532">set</text>
<use href="#B" x="708" y="551"/><text x="708" y="551">esc</text>
<use href="#B" x="576" y="563"/><text x="576" y="563">set</text>
<use href="#B" x="600" y="563"/><text x="600" y="563">esc</text>
<use href="#B" x="539" y="642"/><text x="539" y="642">set</text>
<use href="#B" x="708" y="631"/><text x="708" y="631">esc</text>
<use href="#B" x="708" y="652"/><text x="708" y="652">set</text>
<use href="#B" x="525" y="731"/><text x="525" y="731">set</text>
<use href="#B" x="525" y="804"/><text x="525" y="804">set</text>
<use href="#B" x="526" y="823"/><text x="526" y="823">esc</text>
<use href="#B" x="532" y="873"/><text x="532" y="873">set</text>
<use href="#B" x="539" y="907"/><text x="539" y="907">set</text>
<use href="#B" x="539" y="927"/><text x="539" y="927">esc</text>
<use href="#B" x="537" y="957"/><text x="537" y="957">set</text>
<use href="#B" x="707" y="948"/><text x="707" y="948">set</text>
<use href="#B" x="707" y="968"/><text x="707" y="968">esc</text>
<use href="#B" x="575" y="980"/><text x="575" y="980">set</text>
<use href="#B" x="599" y="980"/><text x="599" y="980">esc</text>
<use href="#B" x="515" y="1157"/><text x="515" y="1157">esc</text>
<use href="#B" x="515" y="1181"/><text x="515" y="1181">set</text>

<use href="#B" x="612" y="1272"/><text x="612" y="1272">set</text>
<use href="#B" x="660" y="1270"/><text x="660" y="1270">set</text>
<use href="#B" x="685" y="1272"/><text x="685" y="1272">set</text>
<use href="#B" x="658" y="1310"/><text x="658" y="1310">esc</text>
<use href="#B" x="658" y="1326"/><text x="658" y="1326">set</text>
<use href="#B" x="612" y="1373"/><text x="612" y="1373">set</text>
<use href="#B" x="660" y="1372"/><text x="660" y="1372">set</text>
<use href="#B" x="685" y="1371"/><text x="685" y="1371">set</text>
<use href="#B" x="658" y="1409"/><text x="658" y="1409">esc</text>
<use href="#B" x="658" y="1425"/><text x="658" y="1425">set</text>
<use href="#B" x="612" y="1472"/><text x="612" y="1472">set</text>
<use href="#B" x="660" y="1472"/><text x="660" y="1472">set</text>
<use href="#B" x="685" y="1470"/><text x="685" y="1470">set</text>
<use href="#B" x="658" y="1507"/><text x="658" y="1507">esc</text>
<use href="#B" x="658" y="1523"/><text x="658" y="1523">set</text>
<use href="#B" x="612" y="1572"/><text x="612" y="1572">set</text>
<use href="#B" x="734" y="1589"/><text x="734" y="1589">esc</text>
<use href="#B" x="734" y="1606"/><text x="734" y="1606">set</text>

<use href="#B" x="878" y="45"/><text x="878" y="45">set</text>
<use href="#B" x="878" y="185"/><text x="878" y="185">esc</text>
<use href="#B" x="878" y="202"/><text x="878" y="202">set</text>
<use href="#B" x="878" y="241"/><text x="878" y="241">set</text>
<use href="#B" x="1001" y="276"/><text x="1001" y="276">set</text>
<use href="#B" x="1001" y="356"/><text x="1001" y="356">set</text>
<use href="#B" x="1001" y="434"/><text x="1001" y="434">set</text>
<use href="#B" x="1001" y="513"/><text x="1001" y="513">set</text>
<use href="#B" x="1086" y="267"/><text x="1086" y="267">esc</text>
<use href="#B" x="1086" y="286"/><text x="1086" y="286">set</text>
<use href="#B" x="1086" y="347"/><text x="1086" y="347">esc</text>
<use href="#B" x="1086" y="364"/><text x="1086" y="364">set</text>
<use href="#B" x="1086" y="426"/><text x="1086" y="426">esc</text>
<use href="#B" x="1086" y="443"/><text x="1086" y="443">set</text>
<use href="#B" x="1086" y="500"/><text x="1086" y="500">esc</text>
<use href="#B" x="1086" y="519"/><text x="1086" y="519">set</text>
<use href="#B" x="878" y="537"/><text x="878" y="537">esc</text>
<use href="#B" x="878" y="573"/><text x="878" y="573">esc</text>
<use href="#B" x="878" y="593"/><text x="878" y="593">set</text>
<use href="#B" x="1086" y="572"/><text x="1086" y="572">set</text>
<use href="#B" x="1086" y="593"/><text x="1086" y="593">esc</text>
<use href="#B" x="878" y="673"/><text x="878" y="673">esc</text>
<use href="#B" x="878" y="693"/><text x="878" y="693">set</text>
<use href="#B" x="1086" y="674"/><text x="1086" y="674">esc</text>
<use href="#B" x="1086" y="692"/><text x="1086" y="692">set</text>
<use href="#B" x="878" y="796"/><text x="878" y="796">set</text>
<use href="#B" x="878" y="837"/><text x="878" y="837">esc</text>
<use href="#B" x="878" y="889"/><text x="878" y="889">esc</text>
<use href="#B" x="878" y="909"/><text x="878" y="909">set</text>
<use href="#B" x="966" y="939"/><text x="966" y="939">set</text>
<use href="#B" x="966" y="1013"/><text x="966" y="1013">set</text>
<use href="#B" x="966" y="1086"/><text x="966" y="1086">set</text>
<use href="#B" x="966" y="1160"/><text x="966" y="1160">set</text>
<use href="#B" x="1087" y="978"/><text x="1087" y="978">set</text>
<use href="#B" x="1087" y="1051"/><text x="1087" y="1051">set</text>
<use href="#B" x="1087" y="1123"/><text x="1087" y="1123">set</text>
<use href="#B" x="1120" y="1181"/><text x="1120" y="1181">set</text>
<use href="#B" x="878" y="1196"/><text x="878" y="1196">esc</text>
<use href="#B" x="878" y="1350"/><text x="878" y="1350">esc</text>
<use href="#B" x="878" y="1372"/><text x="878" y="1372">set</text>
<use href="#B" x="878" y="1447"/><text x="878" y="1447">esc</text>
<use href="#B" x="878" y="1468"/><text x="878" y="1468">set</text>
</g>
</svg>
